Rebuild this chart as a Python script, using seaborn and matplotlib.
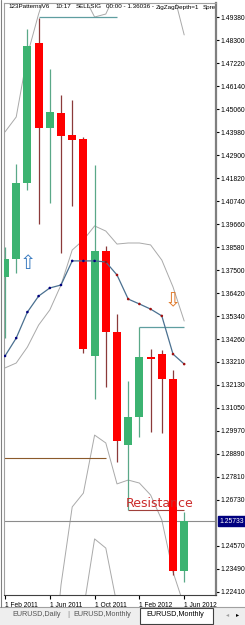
import matplotlib
matplotlib.use("Agg")
import matplotlib.pyplot as plt
import seaborn as sns
import numpy as np
import pandas as pd
from matplotlib.patches import Rectangle
from matplotlib.lines import Line2D

# ---------------- data ----------------
months = ["2011-02", "2011-03", "2011-04", "2011-05", "2011-06", "2011-07", "2011-08",
          "2011-09", "2011-10", "2011-11", "2011-12", "2012-01", "2012-02", "2012-03",
          "2012-04", "2012-05", "2012-06"]
opens = [1.3719, 1.3803, 1.4160, 1.4816, 1.4417, 1.4488, 1.4385, 1.4366, 1.3348, 1.3840,
         1.3461, 1.2930, 1.3062, 1.3343, 1.3357, 1.3240, 1.2340]
highs = [1.3859, 1.4249, 1.4882, 1.4933, 1.4694, 1.4572, 1.4549, 1.4375, 1.4244, 1.3864,
         1.3545, 1.3231, 1.3484, 1.3381, 1.3376, 1.3282, 1.2616]
lows = [1.3432, 1.3737, 1.4127, 1.3967, 1.4066, 1.3831, 1.4052, 1.3362, 1.3146, 1.3203,
        1.2851, 1.2626, 1.2968, 1.2991, 1.2987, 1.2321, 1.2288]
closes = [1.3803, 1.4160, 1.4802, 1.4417, 1.4492, 1.4380, 1.4361, 1.3381, 1.3840, 1.3461,
          1.2949, 1.3062, 1.3343, 1.3334, 1.3240, 1.2340, 1.25733]

ma_values = [1.3348, 1.3432, 1.3554, 1.3629, 1.3667, 1.3681, 1.3794, 1.3794, 1.3794, 1.3789,
             1.3728, 1.3615, 1.3592, 1.3568, 1.3536, 1.3357, 1.3310]
ma_trend = ["up"] * 9 + ["down"] * 8

nan = np.nan
band_a = [1.3292, 1.3315, 1.3390, 1.3493, 1.3564, 1.3681, 1.3845, 1.3892, 1.3958, 1.3934,
          1.3873, 1.3878, 1.3878, 1.3869, 1.3798, 1.3672, 1.3512]
band_b = [1.4399, 1.4469, 1.4760, 1.4952, 1.5112, 1.5182, 1.5158, 1.5041, 1.4938, 1.4952,
          1.5065, 1.5112, 1.5135, 1.5088, 1.5065, 1.5060, 1.4854]
band_c = [nan, nan, nan, nan, 1.1734, 1.2274, 1.2640, 1.2705, 1.2977, 1.2940,
          1.2748, 1.2766, 1.2752, 1.2696, 1.2579, 1.2335, 1.2175]
band_d = [nan, nan, nan, nan, nan, nan, nan, 1.2157, 1.2490, 1.2447,
          1.2180, nan, nan, nan, nan, nan, nan]

top_level = 1.4938        # from May 2011 to Dec 2011
feb_high_level = 1.3484   # from Feb 2012 to Jun 2012
resistance_level = 1.2626 # from Jan 2012 to Jun 2012
brown_level = 1.2870      # from left edge to Nov 2011
current_price = 1.25733
buy_arrow_price = 1.3782   # at Apr 2011
sell_arrow_price = 1.3606  # at May 2012
resistance_label_price = 1.2654

price_ticks = [1.49380, 1.48300, 1.47220, 1.46140, 1.45060, 1.43980, 1.42900, 1.41820,
               1.40740, 1.39660, 1.38580, 1.37500, 1.36420, 1.35340, 1.34260, 1.33210,
               1.32130, 1.31050, 1.29970, 1.28890, 1.27810, 1.26730, 1.24570, 1.23490,
               1.22410]
date_labels = ["1 Feb 2011", "1 Jun 2011", "1 Oct 2011", "1 Feb 2012", "1 Jun 2012"]
date_months = ["2011-02", "2011-06", "2011-10", "2012-02", "2012-06"]

header_tokens = ["123PatternsV6", "10:17", "SELLSIG", "00:00 - 1.36036 -",
                 "ZigZagDepth=1", "Spre"]
tab_labels = ["EURUSD,Daily", "EURUSD,Monthly", "EURUSD,Monthly"]

# ---------------- style ----------------
sns.set_style("white")
plt.rcParams["font.family"] = ["Liberation Sans", "DejaVu Sans"]

W, H = 245, 625
fig = plt.figure(figsize=(W / 100, H / 100), dpi=100)
fig.patch.set_facecolor("white")
ax = fig.add_axes([4 / W, 30 / H, 212 / W, 592 / H])
ax.set_facecolor("white")

x = np.arange(len(months))
idx_of = {m: i for i, m in enumerate(months)}
ax.set_xlim(-0.09, 18.84)
ax.set_ylim(1.22269, 1.50037)

# bands
band_df = pd.DataFrame({"idx": x, "a": band_a, "b": band_b, "c": band_c, "d": band_d})
for col in ["a", "b", "c", "d"]:
    sns.lineplot(data=band_df, x="idx", y=col, ax=ax, color="#A9A9A9", linewidth=0.7,
                 estimator=None, errorbar=None, zorder=1)

# horizontal levels
ax.axhline(current_price, color="#8C8C8C", linewidth=0.8, zorder=2)
ax.hlines(brown_level, -0.09, idx_of["2011-11"], color="#8B5A2B", linewidth=0.8, zorder=2)
ax.hlines(top_level, idx_of["2011-05"], idx_of["2011-12"], color="#5F9EA0", linewidth=0.9, zorder=2)
ax.hlines(feb_high_level, idx_of["2012-02"], idx_of["2012-06"], color="#5F9EA0", linewidth=0.9, zorder=2)
ax.hlines(resistance_level, idx_of["2012-01"], idx_of["2012-06"], color="#A0403A", linewidth=0.8, zorder=2)

# candles
o = np.array(opens); c = np.array(closes); h = np.array(highs); l = np.array(lows)
bull = c >= o
wick_cols = np.where(bull, "#5AA888", "#8B3A3A")
body_cols = np.where(bull, "#3CB371", "#FF0000")
ax.vlines(x, l, h, colors=wick_cols, linewidth=0.9, zorder=3)
ax.bar(x, np.abs(c - o), bottom=np.minimum(o, c), width=0.7, color=body_cols,
       linewidth=0, zorder=4)

# moving average with dots
sns.lineplot(x=x, y=ma_values, ax=ax, color="#4A7090", linewidth=0.9,
             estimator=None, errorbar=None, zorder=5)
dot_cols = ["#00007F" if t == "up" else "#A01010" for t in ma_trend]
ax.scatter(x, ma_values, c=dot_cols, s=3.5, linewidths=0, zorder=6)

# arrows
ax.text(idx_of["2011-04"], buy_arrow_price, "\u21e7", color="#3A7BC0", fontsize=14,
        family="DejaVu Sans", ha="center", va="center", zorder=7)
ax.text(idx_of["2012-05"], sell_arrow_price, "\u21e9", color="#E07828", fontsize=14,
        family="DejaVu Sans", ha="center", va="center", zorder=7)

# Resistance label
ax.text(idx_of["2012-01"] - 0.45 * 0.7 + 0.1, resistance_label_price, "Resistance",
        color="#CC2B2B", fontsize=9, family="DejaVu Sans", ha="left", va="center", zorder=8)

# axes / ticks
ax.set_xlabel(""); ax.set_ylabel("")
ax.yaxis.tick_right()
ax.set_yticks(price_ticks)
ax.set_yticklabels([f"{v:.5f}" for v in price_ticks])
ax.tick_params(axis="y", which="both", right=True, left=False, length=2, width=0.8,
               pad=1.5, labelsize=4.9, colors="black")
ax.set_xticks([idx_of[m] for m in date_months])
ax.set_xticklabels(date_labels, ha="left")
ax.tick_params(axis="x", bottom=True, length=3, width=0.8, pad=2, labelsize=4.8,
               colors="black")
for side, col, lw in [("right", "#7F7F7F", 1.6), ("bottom", "#404040", 0.8),
                      ("left", "#A0A0A0", 0.8), ("top", "#A0A0A0", 0.8)]:
    ax.spines[side].set_color(col)
    ax.spines[side].set_linewidth(lw)
    ax.spines[side].set_visible(True)

# current price box
ax.text(1.0 + 3 / 212, current_price, f"{current_price:.5f}", transform=ax.get_yaxis_transform(),
        ha="left", va="center", fontsize=4.9, color="white",
        bbox=dict(boxstyle="square,pad=0.2", fc="#00007F", ec="#00007F"),
        clip_on=False, zorder=10)

# header text
def axf(px, py):
    return ((px - 4) / 212, (595 - py) / 592)

header_x = [8, 55, 76, 106, 156, 203]
for tok, px in zip(header_tokens, header_x):
    xf, yf = axf(px, 7)
    ax.text(xf, yf, tok, transform=ax.transAxes, fontsize=4.5, color="black",
            ha="left", va="center", clip_on=True, zorder=9)

# tab bar
fig.add_artist(Rectangle((0, 0), 1, 18 / H, transform=fig.transFigure,
                         facecolor="#EEEEEE", edgecolor="none", zorder=0))
fig.add_artist(Line2D([0, 1], [18 / H, 18 / H], transform=fig.transFigure,
                      color="#A0A0A0", linewidth=0.8))
fig.add_artist(Rectangle((140 / W, 1.5 / H), 73 / W, 16 / H, transform=fig.transFigure,
                         facecolor="white", edgecolor="#404040", linewidth=0.8, zorder=1))
fig.text(67 / W, 1 - 615 / H, "|", fontsize=6, color="#808080", va="center")
for lab, px in zip(tab_labels, [12, 73, 146]):
    fig.text(px / W, 1 - 615 / H, lab, fontsize=5.2, color="#555555" if px < 140 else "black",
             va="center", ha="left", zorder=2)
fig.text(226 / W, 1 - 615 / H, "\u25c2", fontsize=4.5, color="#A0A0A0", va="center",
         family="DejaVu Sans")
fig.text(236 / W, 1 - 615 / H, "\u25b8", fontsize=4.5, color="black", va="center",
         family="DejaVu Sans")

# window border
fig.add_artist(Line2D([0.6 / W, 0.6 / W], [18 / H, 1], transform=fig.transFigure,
                      color="#808080", linewidth=0.8))

fig.savefig("out.png", dpi=100, facecolor="white")
